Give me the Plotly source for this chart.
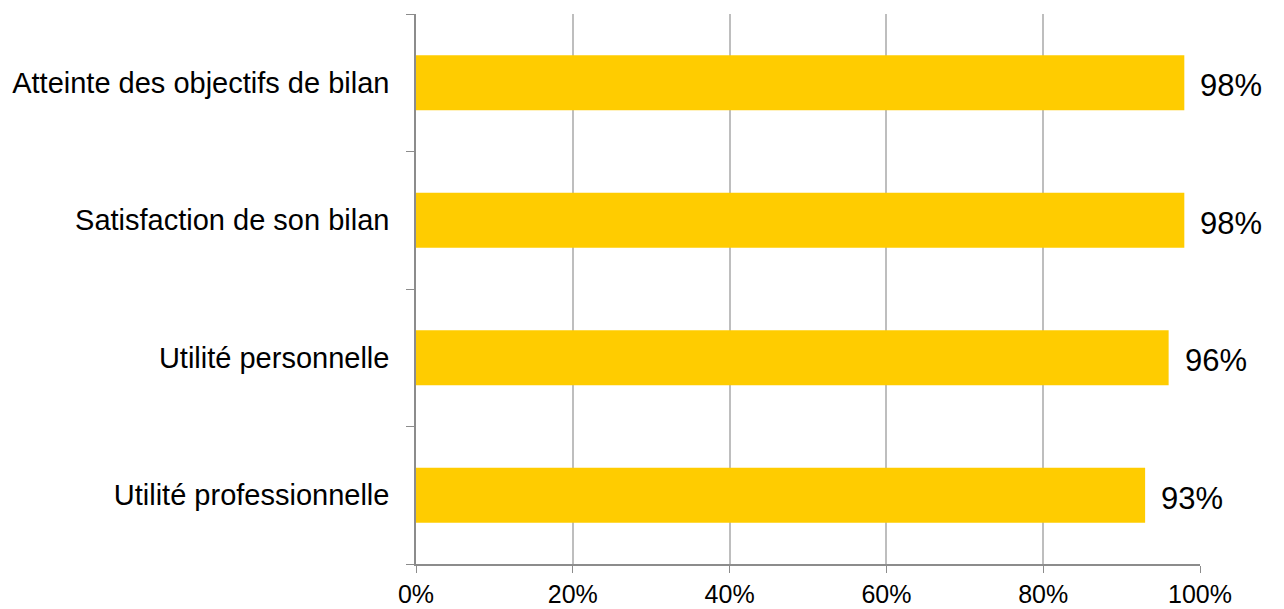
import plotly.graph_objects as go

categories = ["Utilité professionnelle", "Utilité personnelle", "Satisfaction de son bilan", "Atteinte des objectifs de bilan"]
values = [0.93, 0.96, 0.98, 0.98]
labels = ["93%", "96%", "98%", "98%"]
tick_vals = [0, 0.2, 0.4, 0.6, 0.8, 1.0]
tick_text = ["0%", "20%", "40%", "60%", "80%", "100%"]

FONT = "Liberation Sans, Arial, sans-serif"

fig = go.Figure()
fig.add_trace(go.Bar(
    x=values, y=categories, orientation="h",
    marker=dict(color="#FFCC00", line=dict(width=0)),
    width=0.4,
    hoverinfo="skip",
))

for v, c, t in zip(values, categories, labels):
    fig.add_annotation(x=v, y=c, text=t, showarrow=False, xanchor="left",
                       xshift=14, yshift=-3, font=dict(family=FONT, size=31, color="#000000"))

fig.update_layout(
    width=1276, height=601,
    margin=dict(l=408, r=84, t=6, b=45, autoexpand=False),
    paper_bgcolor="white", plot_bgcolor="white",
    showlegend=False,
    font=dict(family=FONT, size=29, color="#000000"),
    xaxis=dict(
        range=[0, 1], tickvals=tick_vals, ticktext=tick_text,
        showgrid=True, gridcolor="#BEBEBE", gridwidth=1.5,
        showline=True, linecolor="#8C8C8C", linewidth=1.5,
        ticks="outside", ticklen=7, tickcolor="#8C8C8C",
        zeroline=False, ticklabelstandoff=0, automargin=False,
        tickfont=dict(size=25),
    ),
    yaxis=dict(
        categoryorder="array", categoryarray=categories,
        showline=True, linecolor="#8C8C8C", linewidth=1.5,
        ticks="outside", tickson="boundaries", ticklen=8, tickcolor="#8C8C8C",
        showgrid=False, ticklabelstandoff=19, automargin=False,
        tickfont=dict(size=29),
    ),
)

fig.write_html("out.html")
